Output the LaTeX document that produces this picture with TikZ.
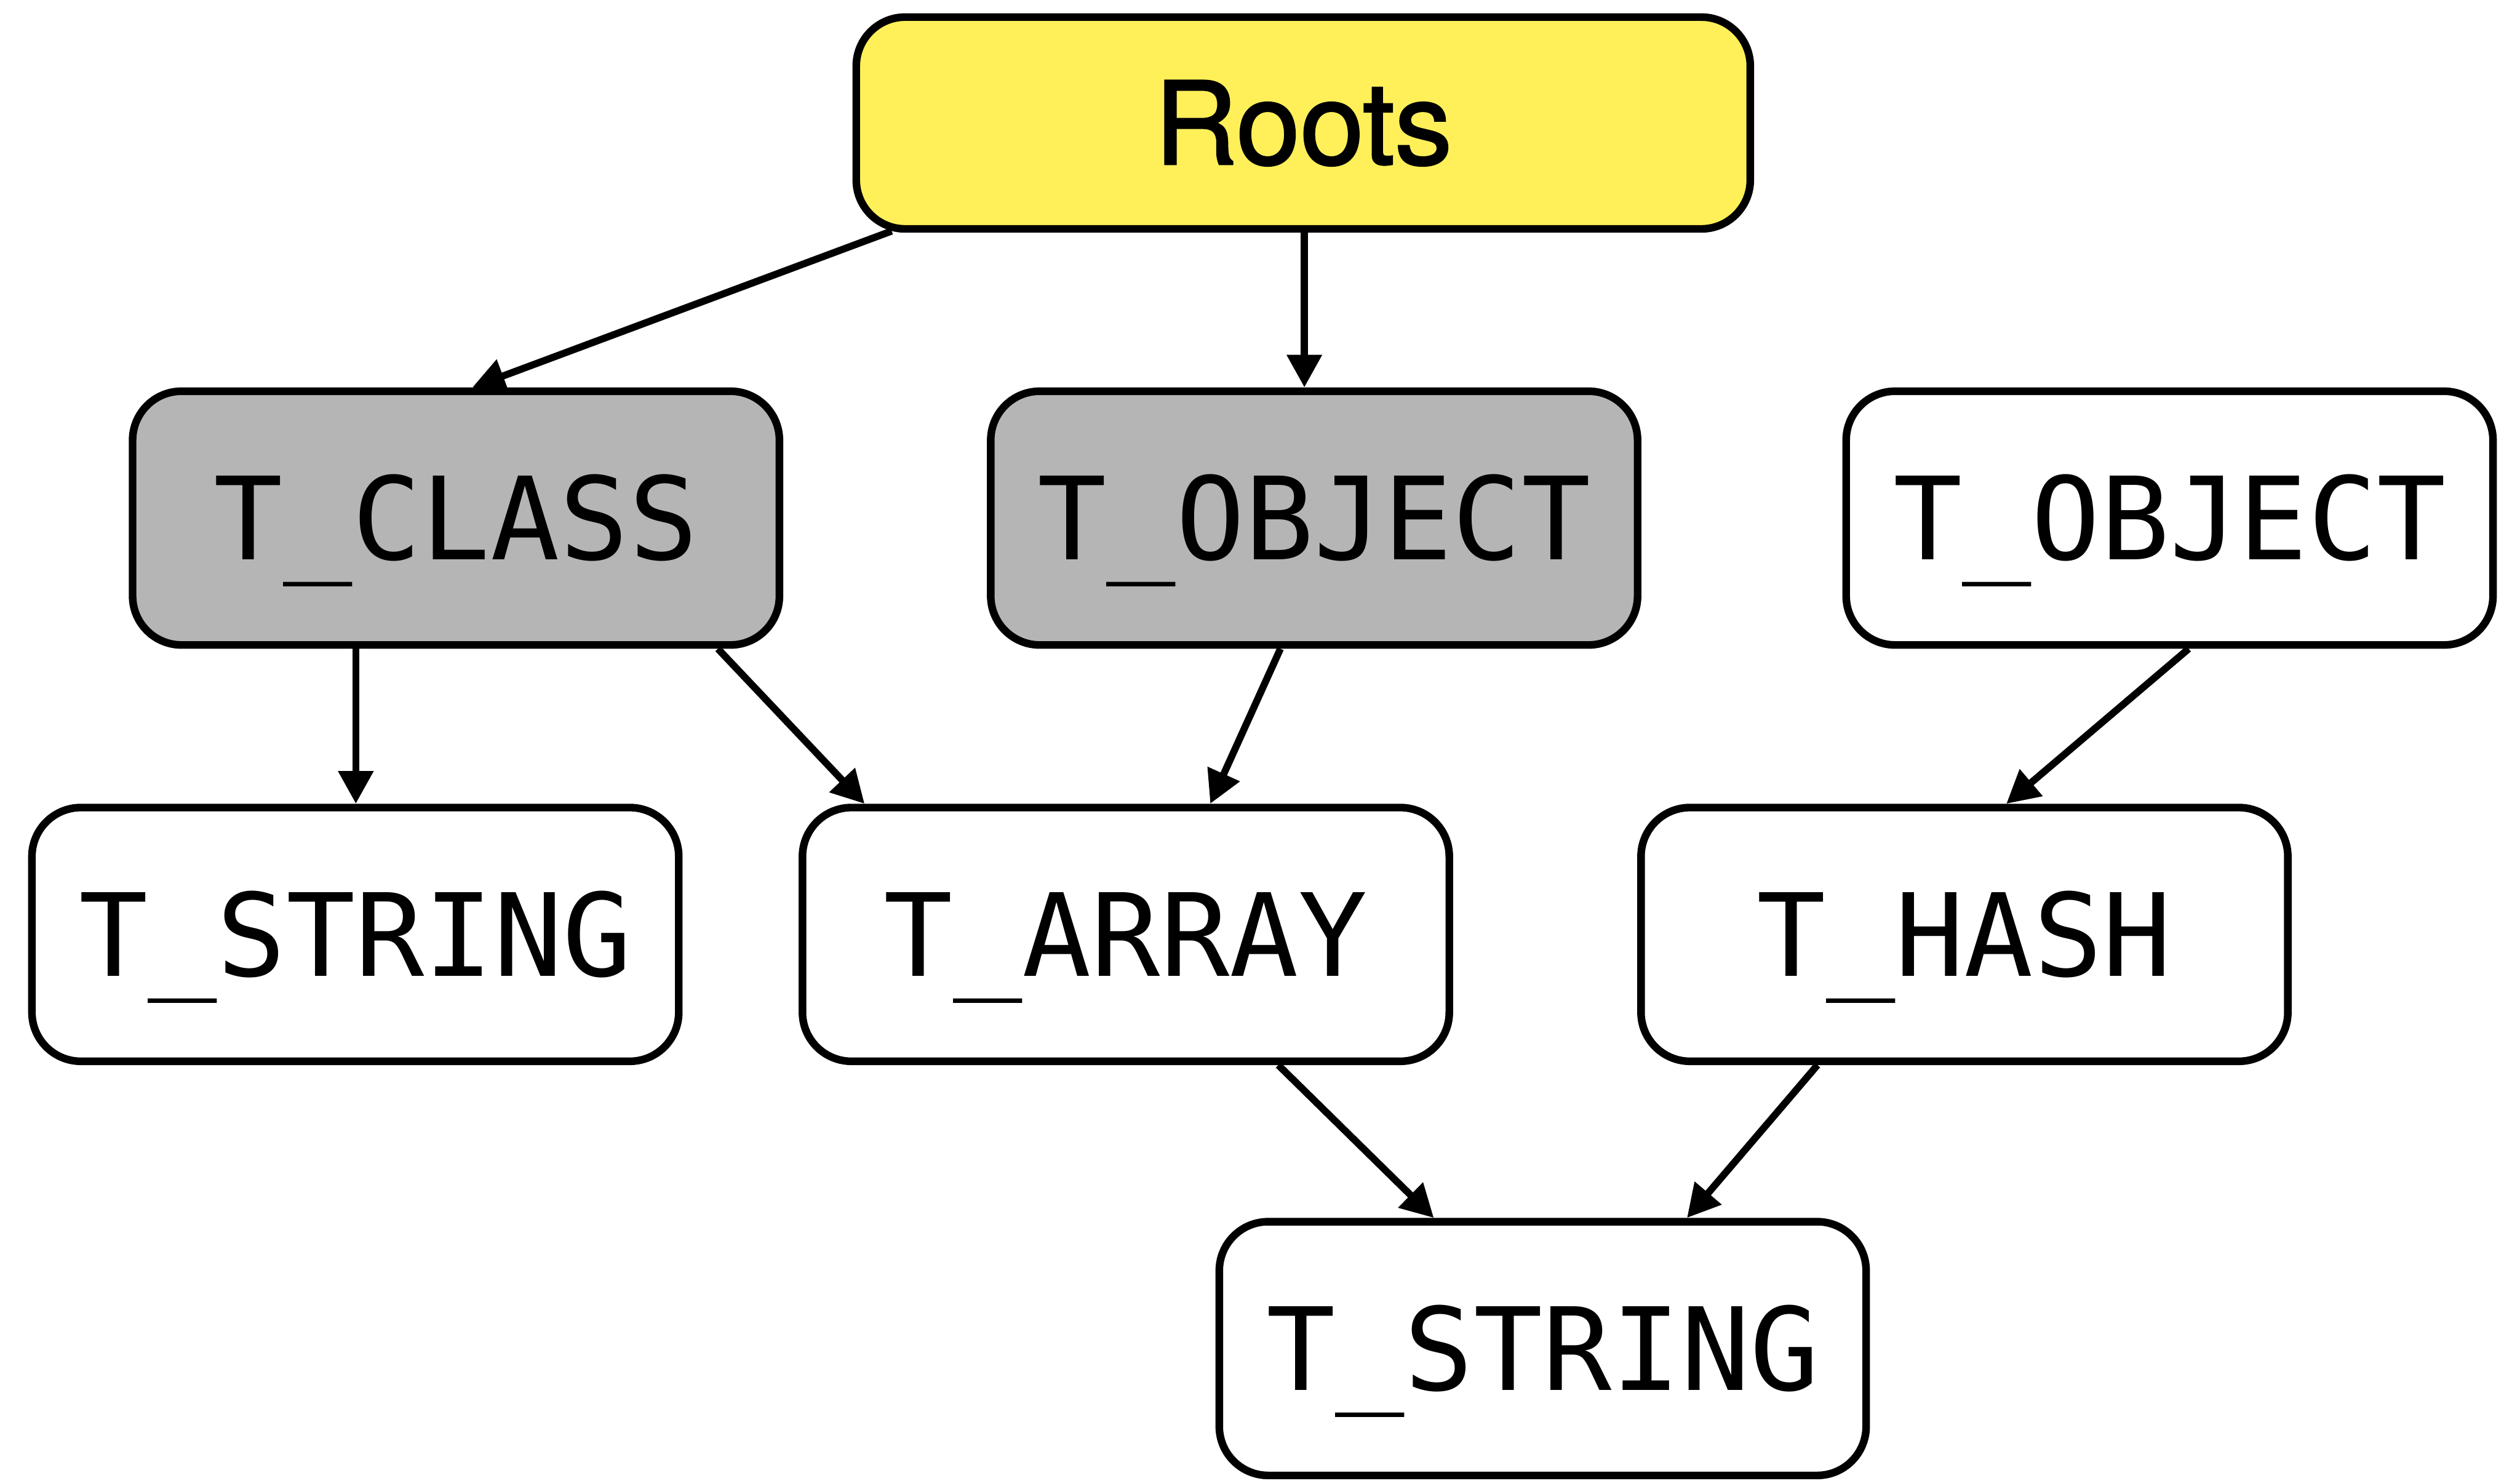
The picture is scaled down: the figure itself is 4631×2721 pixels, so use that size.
\documentclass[tikz,border=0pt]{standalone}
\usepackage{fontspec}
\setmainfont{TeX Gyre Heros}
\newfontfamily\codefont{DejaVu Sans Mono}
\newfontfamily\rootsfont[FakeBold=1.5]{TeX Gyre Heros}
\usetikzlibrary{arrows.meta}
\definecolor{rootyellow}{RGB}{255,240,90}
\definecolor{boxgray}{RGB}{181,181,181}
\begin{document}
\begin{tikzpicture}[x=0.01cm,y=-0.01cm,
  box/.style={draw=black, line width=0.14cm, rounded corners=0.9cm,
    minimum width=11.88cm, minimum height=4.66cm, inner sep=0pt,
    font=\codefont\fontsize{60pt}{72pt}\selectfont,
    text height=43.7pt, text depth=0pt, fill=white},
  graybox/.style={box, fill=boxgray},
  rootbox/.style={box, fill=rootyellow, minimum width=16.42cm, minimum height=3.89cm,
    font=\rootsfont\fontsize{60pt}{72pt}\selectfont, text height=43.1pt},
  arr/.style={draw=black, line width=0.13cm, -{Triangle[length=0.6cm,width=0.62cm]}}
]
\useasboundingbox (0,0) rectangle (4631,2721);

\node[rootbox] (roots) at (2395,226) {Roots};
\node[graybox] (tclass) at (838,952) {T\_CLASS};
\node[graybox] (tobjg) at (2415,952) {T\_OBJECT};
\node[box] (tobjw) at (3987,952) {T\_OBJECT};
\node[box] (tstr1) at (653,1717) {T\_STRING};
\node[box] (tarr) at (2069,1717) {T\_ARRAY};
\node[box] (thash) at (3610,1717) {T\_HASH};
\node[box] (tstr2) at (2835,2478) {T\_STRING};

\draw[arr] ([xshift=-7.56cm,yshift=0.03cm]roots.south) -- ([xshift=0.3cm]tclass.north);
\draw[arr] ([xshift=0.02cm]roots.south) -- ([xshift=0.02cm]roots.south |- tobjg.north);
\draw[arr] ([xshift=-1.84cm]tclass.south) -- ([xshift=-1.84cm]tclass.south |- tstr1.north);
\draw[arr] ([xshift=4.81cm]tclass.south) -- ([xshift=-4.8cm]tarr.north);
\draw[arr] ([xshift=-0.62cm]tobjg.south) -- ([xshift=1.55cm]tarr.north);
\draw[arr] ([xshift=0.35cm]tobjw.south) -- ([xshift=0.77cm]thash.north);
\draw[arr] ([xshift=2.8cm]tarr.south) -- ([xshift=-2.0cm]tstr2.north);
\draw[arr] ([xshift=-2.7cm]thash.south) -- ([xshift=2.65cm]tstr2.north);
\end{tikzpicture}
\end{document}
